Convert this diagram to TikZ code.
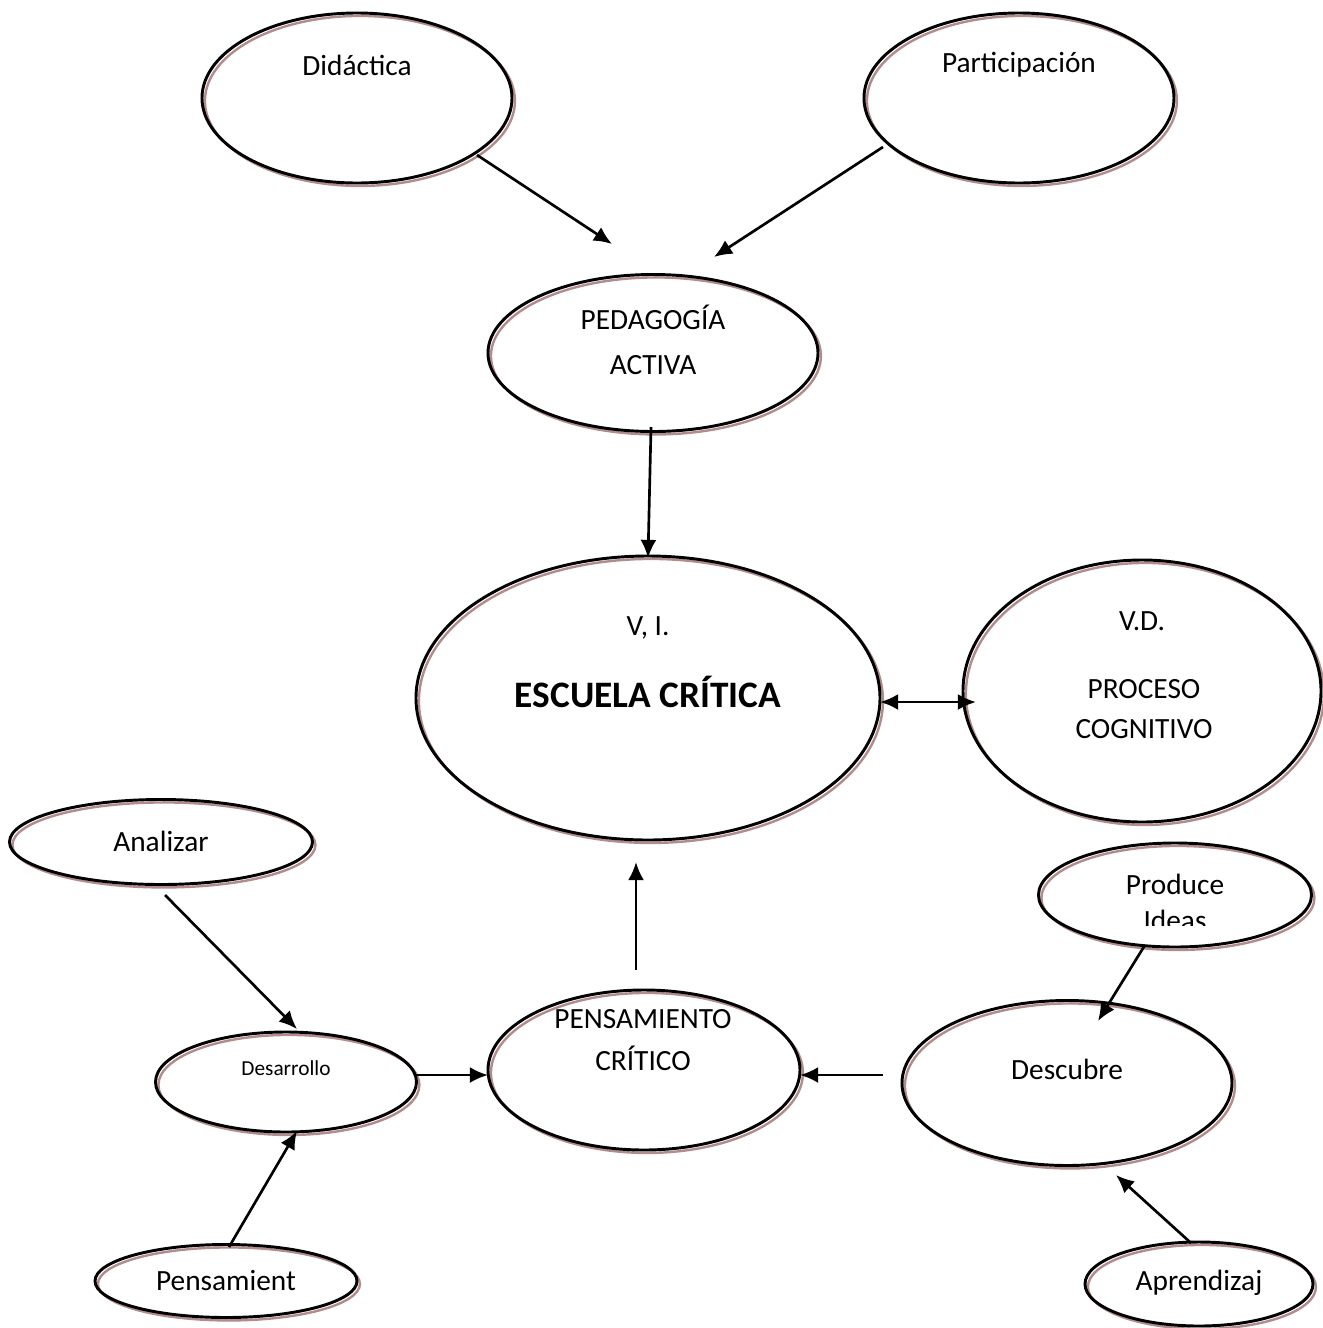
\documentclass[tikz,border=0pt]{standalone}
\usepackage{fontspec}
\setmainfont{Carlito}
\usetikzlibrary{shapes.geometric,arrows.meta}
\definecolor{shadowred}{RGB}{178,140,140}
\begin{document}
\begin{tikzpicture}[x=0.375pt,y=-0.375pt,>={Latex[length=6.8pt,width=6pt]},
    bsize/.style 2 args={minimum width=#1*0.375pt,minimum height=#2*0.375pt}]
	\tikzstyle{bubble} = [ellipse,draw,line width=1.1pt,inner sep=0pt,
		preaction={draw=shadowred,line width=0.9pt,transform canvas={xshift=1.1pt,yshift=-1.1pt}}]
	\tikzstyle{txt} = [inner sep=0pt,font=\fontsize{11}{13}\selectfont]
	\tikzstyle{link} = [->,line width=1pt]
	
	\useasboundingbox (0,0) rectangle (1322,1328);
	
	% ellipses
	\node[bubble,bsize={310}{170}] (didactica) at (357,98) {};
	\node[bubble,bsize={310}{170}] (participacion) at (1019,98) {};
	\node[bubble,bsize={330}{157}] (pedagogia) at (653,353) {};
	\node[bubble,bsize={464}{284}] (escuela) at (648,698) {};
	\node[bubble,bsize={358}{262}] (proceso) at (1142,691) {};
	\node[bubble,bsize={303}{85}] (analizar) at (161,842) {};
	\node[bubble,bsize={273}{104}] (produce) at (1175,895) {};
	\node[bubble,bsize={261}{100}] (desarrollo) at (286,1082) {};
	\node[bubble,bsize={312}{160}] (pensamiento) at (644,1070) {};
	\node[bubble,bsize={330}{165}] (descubre) at (1067,1083) {};
	\node[bubble,bsize={262}{73}] (pensamient) at (226,1281) {};
	\node[bubble,bsize={228}{84}] (aprendizaj) at (1199,1284) {};
	
	% texts
	\node[txt] (didactica-t) at (357,65) {Didáctica};
	\node[txt] (participacion-t) at (1019,65) {Participación};
	\node[txt,align=center,font=\fontsize{11}{17}\selectfont] (pedagogia-t) at (653,340) {PEDAGOGÍA\\ACTIVA};
	\node[txt] (vi-t) at (648,628) {V, I.};
	\node[txt,font=\fontsize{14}{16}\bfseries] (escuela-t) at (648,692) {ESCUELA CRÍTICA};
	\node[txt] (vd-t) at (1142,621) {V.D.};
	\node[txt,align=center,font=\fontsize{11}{15}\selectfont] (proceso-t) at (1144,709) {PROCESO\\COGNITIVO};
	\node[txt] (analizar-t) at (161,841) {Analizar};
	\node[txt] (produce-t) at (1175,884) {Produce};
	\begin{scope}
		\clip (1040,870) rectangle (1310,925);
		\node[txt] (ideas-t) at (1175,920) {Ideas};
	\end{scope}
	\node[txt,font=\fontsize{8}{10}\selectfont] (desarrollo-t) at (286,1068) {Desarrollo};
	\node[txt,align=center,font=\fontsize{11}{16}\selectfont] (pensamiento-t) at (643,1040) {PENSAMIENTO\\CRÍTICO};
	\node[txt] (descubre-t) at (1067,1069) {Descubre};
	\node[txt] (pensamient-t) at (226,1280) {Pensamient};
	\node[txt] (aprendizaj-t) at (1199,1283) {Aprendizaj};
	
	% arrow ends
	\coordinate (didactica-out) at (477,155);
	\coordinate (pedagogia-in1) at (612,244);
	\coordinate (participacion-out) at (883,147);
	\coordinate (pedagogia-in2) at (714,257);
	\coordinate (pedagogia-out) at (651,427);
	\coordinate (escuela-in) at (648,558);
	\coordinate (escuela-r) at (880,702);
	\coordinate (proceso-l) at (976,702);
	\coordinate (pensamiento-out) at (636,970);
	\coordinate (escuela-in2) at (636,862);
	\coordinate (analizar-out) at (165,895);
	\coordinate (desarrollo-in1) at (297,1029);
	\coordinate (pensamient-out) at (229,1247);
	\coordinate (desarrollo-in2) at (297,1131);
	\coordinate (desarrollo-out) at (415,1075);
	\coordinate (pensamiento-in1) at (488,1075);
	\coordinate (descubre-out) at (883,1075);
	\coordinate (pensamiento-in2) at (800,1075);
	\coordinate (produce-out) at (1145,945);
	\coordinate (descubre-in1) at (1098,1021);
	\coordinate (aprendizaj-out) at (1191,1243);
	\coordinate (descubre-in2) at (1116,1175);
	
	% connectors
	\draw[link] (didactica-out) -- (pedagogia-in1);
	\draw[link] (participacion-out) -- (pedagogia-in2);
	\draw[link] (pedagogia-out) -- (escuela-in);
	\draw[link,<->] (escuela-r) -- (proceso-l);
	\draw[link] (pensamiento-out) -- (escuela-in2);
	\draw[link] (analizar-out) -- (desarrollo-in1);
	\draw[link] (pensamient-out) -- (desarrollo-in2);
	\draw[link] (desarrollo-out) -- (pensamiento-in1);
	\draw[link] (descubre-out) -- (pensamiento-in2);
	\draw[link] (produce-out) -- (descubre-in1);
	\draw[link] (aprendizaj-out) -- (descubre-in2);
\end{tikzpicture}
\end{document}
